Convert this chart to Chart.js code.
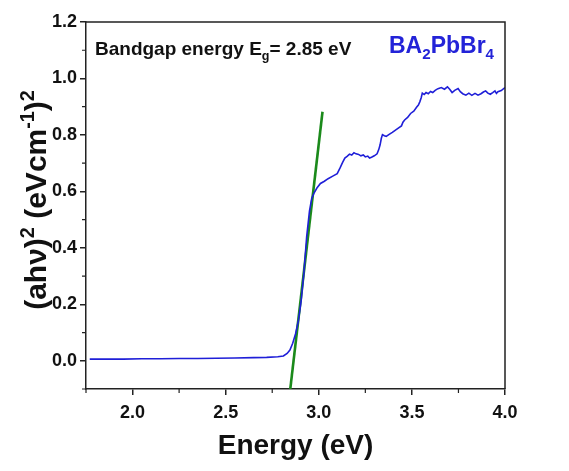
<!DOCTYPE html>
<html lang="en">
<head>
    <meta charset="UTF-8">
    <title>Tauc plot BA2PbBr4</title>
    <style>
        body { margin: 0; background: #fff; }
        canvas { display: block; }
    </style>
</head>
<body>
    <canvas id="myChart" width="569" height="471"></canvas>

<script src="https://cdn.jsdelivr.net/npm/chart.js"></script>
<script>
    // energia (eV) e (ahv)^2
    const energy = [1.77, 1.85, 1.95, 2.05, 2.15, 2.25, 2.35, 2.45, 2.55, 2.65, 2.72, 2.78, 2.81, 2.83, 2.845,
        2.86, 2.875, 2.89, 2.905, 2.92, 2.935, 2.95, 2.962, 2.976, 2.99, 3.009, 3.03, 3.05, 3.075, 3.099,
        3.115, 3.128, 3.14, 3.152, 3.165, 3.177, 3.189, 3.2, 3.214, 3.226, 3.239, 3.25, 3.263, 3.273, 3.283,
        3.298, 3.313, 3.322, 3.329, 3.336, 3.342, 3.352, 3.362, 3.378, 3.395, 3.41, 3.425, 3.444, 3.452, 3.461,
        3.477, 3.493, 3.51, 3.526, 3.535, 3.543, 3.55, 3.556, 3.566, 3.576, 3.588, 3.6, 3.612, 3.625, 3.64,
        3.658, 3.675, 3.691, 3.703, 3.716, 3.73, 3.748, 3.76, 3.773, 3.79, 3.806, 3.822, 3.839, 3.855, 3.871,
        3.884, 3.896, 3.908, 3.921, 3.934, 3.946, 3.954, 3.962, 3.98, 4.0];
    const absorb = [0.006, 0.006, 0.006, 0.007, 0.007, 0.008, 0.008, 0.009, 0.010, 0.011, 0.012, 0.014, 0.017, 0.026, 0.038,
        0.062, 0.095, 0.140, 0.21, 0.31, 0.44, 0.53, 0.575, 0.596, 0.612, 0.628, 0.636, 0.645, 0.654, 0.663,
        0.684, 0.703, 0.718, 0.724, 0.732, 0.729, 0.737, 0.733, 0.731, 0.726, 0.729, 0.722, 0.725, 0.718, 0.721,
        0.726, 0.733, 0.748, 0.764, 0.788, 0.801, 0.797, 0.795, 0.802, 0.809, 0.816, 0.823, 0.832, 0.845, 0.853,
        0.862, 0.876, 0.884, 0.899, 0.906, 0.918, 0.932, 0.948, 0.943, 0.950, 0.946, 0.954, 0.950, 0.958, 0.964,
        0.968, 0.962, 0.970, 0.962, 0.950, 0.958, 0.964, 0.953, 0.946, 0.941, 0.948, 0.940, 0.947, 0.941, 0.946,
        0.952, 0.956, 0.948, 0.944, 0.950, 0.956, 0.947, 0.953, 0.957, 0.968];

    // reta de ajuste (extrapolacao do bandgap)
    const fitEnergy = [2.847, 3.02];
    const fitAbsorb = [-0.1, 0.882];

    const xTicks = [2.0, 2.5, 3.0, 3.5, 4.0];
    const xMinor = [1.75, 2.25, 2.75, 3.25, 3.75];
    const yTicks = [0.0, 0.2, 0.4, 0.6, 0.8, 1.0, 1.2];
    const yMinor = [-0.1, 0.1, 0.3, 0.5, 0.7, 0.9, 1.1];

    const fonte = '"Liberation Sans", Arial, Helvetica, sans-serif';
    const corEixo = '#222';

    var pontos = [];
    for (i = 0; i < energy.length; i++) {
        pontos.push({ x: energy[i], y: absorb[i] });
    }
    var pontosFit = [];
    for (i = 0; i < fitEnergy.length; i++) {
        pontosFit.push({ x: fitEnergy[i], y: fitAbsorb[i] });
    }

    // texto com sobrescrito / subscrito
    function textoRico(ctx, partes, x, y, tamanho, alinhar) {
        var larguras = [];
        var total = 0;
        partes.forEach(function (p) {
            var t = p[1] == 'n' ? tamanho : tamanho * 0.66;
            ctx.font = 'bold ' + t + 'px ' + fonte;
            var w = ctx.measureText(p[0]).width;
            larguras.push(w);
            total += w;
        });
        var cx = alinhar == 'center' ? x - total / 2 : x;
        ctx.textBaseline = 'alphabetic';
        ctx.textAlign = 'left';
        partes.forEach(function (p, k) {
            var t = p[1] == 'n' ? tamanho : tamanho * 0.66;
            var dy = 0;
            if (p[1] == 'sup') dy = -tamanho * 0.4;
            if (p[1] == 'sub') dy = tamanho * 0.25;
            ctx.font = 'bold ' + t + 'px ' + fonte;
            ctx.fillText(p[0], cx, y + dy);
            cx += larguras[k];
        });
    }

    const extras = {
        id: 'extras',
        afterDraw: function (chart) {
            const ctx = chart.ctx;
            const area = chart.chartArea;
            const sx = chart.scales.x;
            const sy = chart.scales.y;
            ctx.save();

            // moldura superior e direita
            ctx.strokeStyle = corEixo;
            ctx.lineWidth = 1.5;
            ctx.beginPath();
            ctx.moveTo(area.left, area.top);
            ctx.lineTo(area.right, area.top);
            ctx.lineTo(area.right, area.bottom);
            ctx.stroke();

            // ticks menores
            ctx.lineWidth = 1.2;
            ctx.beginPath();
            xMinor.forEach(function (v) {
                var px = sx.getPixelForValue(v);
                ctx.moveTo(px, area.bottom);
                ctx.lineTo(px, area.bottom + 4);
            });
            yMinor.forEach(function (v) {
                var py = sy.getPixelForValue(v);
                ctx.moveTo(area.left, py);
                ctx.lineTo(area.left - 4, py);
            });
            ctx.stroke();

            // titulos dos eixos
            ctx.fillStyle = '#111';
            ctx.font = 'bold 28px ' + fonte;
            ctx.textAlign = 'center';
            ctx.textBaseline = 'alphabetic';
            ctx.fillText('Energy (eV)', (area.left + area.right) / 2, 454);

            ctx.save();
            ctx.translate(46, 200);
            ctx.rotate(-Math.PI / 2);
            textoRico(ctx, [['(ahν)', 'n'], ['2', 'sup'], [' (eVcm', 'n'], ['-1', 'sup'], [')', 'n'], ['2', 'sup']], 0, 0, 30, 'center');
            ctx.restore();

            // anotacoes
            ctx.fillStyle = '#111';
            textoRico(ctx, [['Bandgap energy E', 'n'], ['g', 'sub'], ['= 2.85 eV', 'n']], 95, 55, 19, 'left');
            ctx.fillStyle = '#2323d8';
            textoRico(ctx, [['BA', 'n'], ['2', 'sub'], ['PbBr', 'n'], ['4', 'sub']], 389, 53, 23, 'left');

            ctx.restore();
        }
    };

    const ctx = document.getElementById('myChart');

    new Chart(ctx, {
        type: 'scatter',
        data: {
            datasets: [{
                label: 'BA2PbBr4',
                data: pontos,
                showLine: true,
                borderColor: '#1f1fd8',
                borderWidth: 1.6,
                pointRadius: 0,
                tension: 0
            }, {
                label: 'ajuste',
                data: pontosFit,
                showLine: true,
                borderColor: '#1b8a1b',
                borderWidth: 2.6,
                pointRadius: 0
            }]
        },
        options: {
            responsive: false,
            animation: false,
            layout: {
                padding: { top: 22, right: 64, left: 0, bottom: 0 }
            },
            plugins: {
                legend: { display: false },
                tooltip: { enabled: false }
            },
            scales: {
                x: {
                    type: 'linear',
                    min: 1.75,
                    max: 4.0,
                    afterBuildTicks: function (s) {
                        s.ticks = xTicks.map(function (v) { return { value: v }; });
                    },
                    afterFit: function (s) { s.height = 82; },
                    ticks: {
                        callback: function (v) { return v.toFixed(1); },
                        font: { size: 18, weight: 'bold', family: fonte },
                        color: '#111',
                        padding: 7,
                        maxRotation: 0,
                        autoSkip: false
                    },
                    grid: { drawOnChartArea: false, tickLength: 6, color: corEixo, lineWidth: 1.5 },
                    border: { color: corEixo, width: 1.5 }
                },
                y: {
                    type: 'linear',
                    min: -0.1,
                    max: 1.2,
                    afterBuildTicks: function (s) {
                        s.ticks = yTicks.map(function (v) { return { value: v }; });
                    },
                    afterFit: function (s) { s.width = 86; },
                    ticks: {
                        callback: function (v) { return v.toFixed(1); },
                        font: { size: 18, weight: 'bold', family: fonte },
                        color: '#111',
                        padding: 3,
                        autoSkip: false
                    },
                    grid: { drawOnChartArea: false, tickLength: 6, color: corEixo, lineWidth: 1.5 },
                    border: { color: corEixo, width: 1.5 }
                }
            }
        },
        plugins: [extras]
    });
</script>
</body>
</html>
